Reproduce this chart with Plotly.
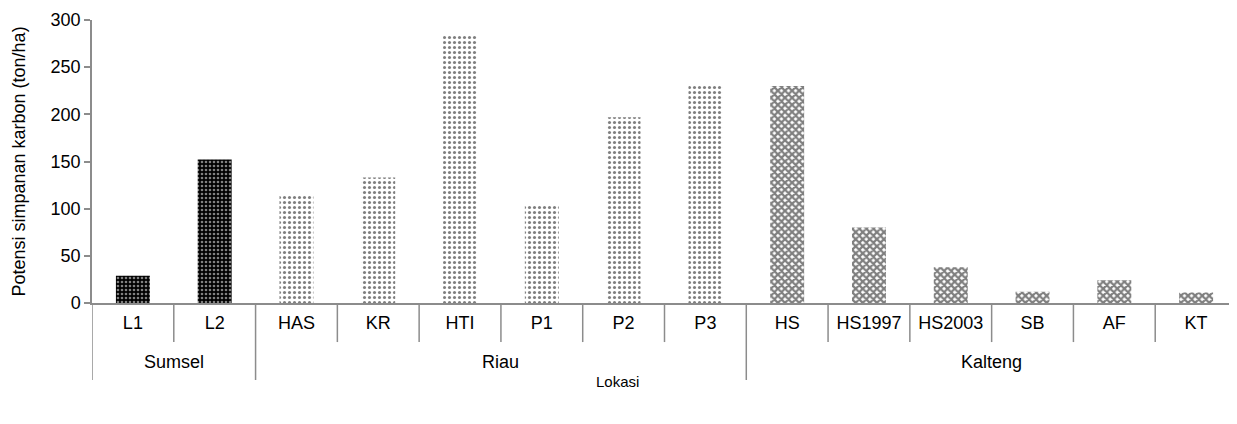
import plotly.graph_objects as go

lokasi = ['Sumsel', 'Sumsel', 'Riau', 'Riau', 'Riau', 'Riau', 'Riau', 'Riau',
          'Kalteng', 'Kalteng', 'Kalteng', 'Kalteng', 'Kalteng', 'Kalteng']
plot_ids = ['L1', 'L2', 'HAS', 'KR', 'HTI', 'P1', 'P2', 'P3',
            'HS', 'HS1997', 'HS2003', 'SB', 'AF', 'KT']
karbon = [29, 152, 115, 133, 284, 103, 197, 230, 230, 80, 38, 12, 24, 11]
groups = ['Sumsel', 'Riau', 'Kalteng']

# fill pattern per region (bg, fg, shape, size, solidity)
style = {
    'Sumsel': ('black', 'white', '.', 4, 0.35),
    'Riau': ('white', 'black', '.', 5, 0.3),
    'Kalteng': ('white', 'black', 'x', 5, 0.7),
}

axis_grey = '#8c8c8c'
fig = go.Figure()

for g in groups:
    idx = [i for i, r in enumerate(lokasi) if r == g]
    bg, fg, shp, sz, sol = style[g]
    fig.add_trace(go.Bar(
        x=[plot_ids[i] for i in idx],
        y=[karbon[i] for i in idx],
        name=g,
        marker=dict(
            color=bg,
            line=dict(width=0),
            pattern=dict(shape=shp, fgcolor=fg, bgcolor=bg, size=sz,
                         solidity=sol, fillmode='overlay'),
        ),
    ))

# plot area is 1145 x 283 px
bottom_inner = -0.138
bottom_group = -0.272
start = 0
for g in groups:
    n = lokasi.count(g)
    fig.add_annotation(x=start + (n - 1) / 2, xref='x', y=-0.208, yref='paper',
                       text=g, showarrow=False, yanchor='middle',
                       font=dict(size=18))
    fig.add_shape(type='line', xref='x', yref='paper',
                  x0=start - 0.5, x1=start - 0.5, y0=0, y1=bottom_group,
                  line=dict(color=axis_grey, width=1.5))
    for k in range(1, n):
        fig.add_shape(type='line', xref='x', yref='paper',
                      x0=start + k - 0.5, x1=start + k - 0.5, y0=0, y1=bottom_inner,
                      line=dict(color=axis_grey, width=1.5))
    start += n

fig.add_annotation(x=0.459, xref='paper', y=-0.279, yref='paper',
                   text='Lokasi', showarrow=False, yanchor='middle',
                   font=dict(size=15))
fig.add_annotation(x=-0.0646, xref='paper', y=0.5, yref='paper',
                   text='Potensi simpanan karbon (ton/ha)', textangle=-90,
                   showarrow=False, xanchor='center', yanchor='middle',
                   font=dict(size=18))

# page body has an 8px margin, so the figure is sized to fit the window
fig.update_layout(
    width=1229, height=408,
    margin=dict(l=84, r=0, t=12, b=113),
    plot_bgcolor='white', paper_bgcolor='white',
    font=dict(family='Liberation Sans, Arial, sans-serif', size=18, color='black'),
    barmode='overlay',
    bargap=0.585,
    showlegend=False,
)
fig.update_xaxes(
    type='category', categoryorder='array', categoryarray=plot_ids,
    range=[-0.5, len(plot_ids) - 0.5],
    showline=True, linecolor=axis_grey, linewidth=1.5,
    ticks='', ticklabelstandoff=3,
    tickfont=dict(size=18),
    automargin=False,
)
fig.update_yaxes(
    range=[0, 300], dtick=50,
    showline=True, linecolor=axis_grey, linewidth=1.5,
    ticks='outside', ticklen=6, tickcolor=axis_grey, tickwidth=1.5,
    showgrid=False, zeroline=False,
    tickfont=dict(size=18),
    automargin=False,
)

fig.write_html('out.html')
